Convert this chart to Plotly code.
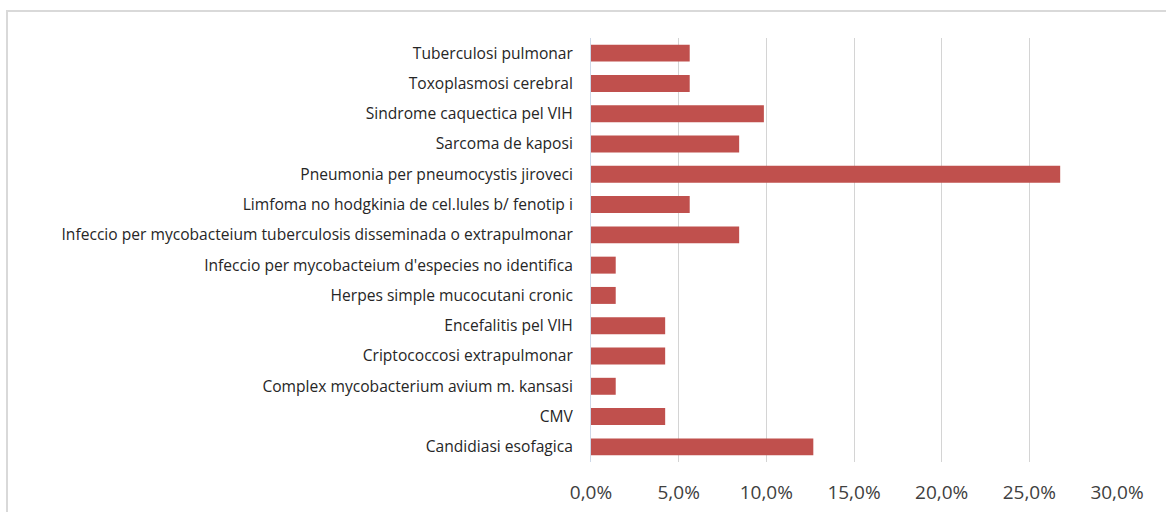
import plotly.graph_objects as go

categories = [
    "Tuberculosi pulmonar",
    "Toxoplasmosi cerebral",
    "Sindrome caquectica pel VIH",
    "Sarcoma de kaposi",
    "Pneumonia per pneumocystis jiroveci",
    "Limfoma no hodgkinia de cel.lules b/ fenotip i",
    "Infeccio per mycobacteium tuberculosis disseminada o extrapulmonar",
    "Infeccio per mycobacteium d'especies no identifica",
    "Herpes simple mucocutani cronic",
    "Encefalitis pel VIH",
    "Criptococcosi extrapulmonar",
    "Complex mycobacterium avium m. kansasi",
    "CMV",
    "Candidiasi esofagica",
]
values = [5.63, 5.63, 9.86, 8.45, 26.76, 5.63, 8.45, 1.41, 1.41, 4.23, 4.23, 1.41, 4.23, 12.68]
x_ticks = [0, 5, 10, 15, 20, 25, 30]
x_tick_labels = ["0,0%", "5,0%", "10,0%", "15,0%", "20,0%", "25,0%", "30,0%"]

W, H = 1166, 512
L, R, T, B = 591, 49, 38, 50
pw, ph = W - L - R, H - T - B

fig = go.Figure(go.Bar(
    x=values, y=categories, orientation="h",
    marker=dict(color="#C0504D", line=dict(width=0)),
    hoverinfo="x+y",
))

fig.update_layout(
    width=W, height=H,
    margin=dict(l=L, r=R, t=T, b=B, pad=0, autoexpand=False),
    paper_bgcolor="white", plot_bgcolor="white",
    bargap=0.44,
    showlegend=False,
    font=dict(family="Open Sans, sans-serif", color="#404040"),
    shapes=[dict(
        type="rect", xref="paper", yref="paper",
        x0=(7 - L) / pw, x1=(W + 10 - L) / pw,
        y0=-(H + 10 - (H - B)) / ph, y1=1 + (T - 11) / ph,
        line=dict(color="#d9d9d9", width=2), fillcolor="rgba(0,0,0,0)", layer="below",
    )],
)

fig.update_xaxes(
    range=[0, 30], tickvals=x_ticks, ticktext=x_tick_labels,
    showgrid=True, gridcolor="#d4d4d4", gridwidth=1, zeroline=False,
    showline=False, ticks="", tickfont=dict(size=19, color="#404040"),
    ticklabelstandoff=17, automargin=False,
)
fig.update_yaxes(
    autorange="reversed", showgrid=False, zeroline=False,
    showline=True, linecolor="#cdd8e8", linewidth=1,
    ticks="", tickfont=dict(size=15.6, color="#262626"),
    ticklabelstandoff=14, automargin=False,
)

fig.write_html(
    "out.html",
    config={"displayModeBar": False},
    post_script="document.body.style.margin='0';document.body.style.overflow='hidden';",
)
